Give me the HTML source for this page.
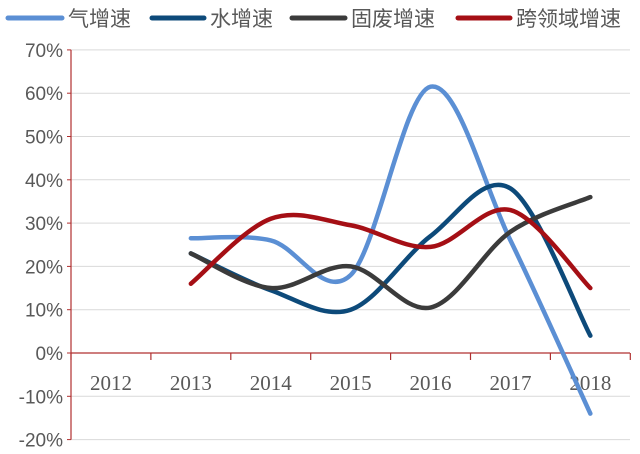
<!DOCTYPE html>
<html><head><meta charset="utf-8"><style>
html,body{margin:0;padding:0;background:#fff;}
svg{display:block;font-family:"Liberation Serif","Noto Serif CJK SC",serif;}
</style></head><body>
<svg id="c" width="640" height="454" xmlns="http://www.w3.org/2000/svg">
<g font-family="Liberation Sans,Noto Sans CJK SC,sans-serif" font-size="21" fill="#595959">
<line x1="8" y1="18" x2="62" y2="18" stroke="#5b8fd4" stroke-width="5" stroke-linecap="round"/>
<text x="68" y="26">气增速</text>
<line x1="152" y1="18" x2="204" y2="18" stroke="#0d4a7a" stroke-width="5" stroke-linecap="round"/>
<text x="210" y="26">水增速</text>
<line x1="292" y1="18" x2="345" y2="18" stroke="#3b3b3b" stroke-width="5" stroke-linecap="round"/>
<text x="351" y="26">固废增速</text>
<line x1="458" y1="18" x2="510" y2="18" stroke="#a50f15" stroke-width="5" stroke-linecap="round"/>
<text x="516" y="26">跨领域增速</text>
</g>
<g id="grid"></g>
<g id="series"></g>
</svg>
<script>
var svg=document.getElementById('c');
var x0=71,x1=630,cw=79.9,y0=353,u=4.33;
function Y(v){return y0-v*u;}
function X(i){return x0+cw*(i+0.5);}
var g=document.getElementById('grid'),h='';
for(var v=-20;v<=70;v+=10){
 if(v!=0)h+='<line x1="'+x0+'" x2="'+x1+'" y1="'+Y(v)+'" y2="'+Y(v)+'" stroke="#d9d9d9" stroke-width="1"/>';
 h+='<line x1="'+(x0-4)+'" x2="'+x0+'" y1="'+Y(v)+'" y2="'+Y(v)+'" stroke="#b03030" stroke-width="1"/>';
 h+='<text x="'+(x0-8)+'" y="'+(Y(v)+7)+'" text-anchor="end" font-size="19" fill="#595959" font-family="Liberation Sans,sans-serif">'+v+'%</text>';
}
h+='<line x1="'+x0+'" x2="'+x0+'" y1="'+Y(70)+'" y2="'+Y(-20)+'" stroke="#b03030" stroke-width="1.2"/>';
h+='<line x1="'+x0+'" x2="'+x1+'" y1="'+y0+'" y2="'+y0+'" stroke="#b03030" stroke-width="1.2"/>';
for(var i=0;i<=7;i++){var xx=x0+cw*i;h+='<line x1="'+xx+'" x2="'+xx+'" y1="'+y0+'" y2="'+(y0+7)+'" stroke="#b03030" stroke-width="1.2"/>';}
var yrs=[2012,2013,2014,2015,2016,2017,2018];
for(var i=0;i<7;i++)h+='<text x="'+X(i)+'" y="'+(y0+37)+'" text-anchor="middle" font-size="21" fill="#595959">'+yrs[i]+'</text>';
g.innerHTML=h;
var S=[
 ['#5b8fd4',[26.5,26,18,61.5,26,-14]],
 ['#0d4a7a',[23,14.5,10,27,38,4]],
 ['#3b3b3b',[23,15,20,10.5,28,36]],
 ['#a50f15',[16,31,29.5,24.5,33,15]]];
var s='';
S.forEach(function(se){
 var p=se[1].map(function(v,i){return [X(i+1),Y(v)];});
 var d='M'+p[0][0]+','+p[0][1];
 for(var i=0;i<p.length-1;i++){
  var a=p[Math.max(i-1,0)],b=p[i],c=p[i+1],e=p[Math.min(i+2,p.length-1)],t=1/6;
  d+=' C'+(b[0]+(c[0]-a[0])*t)+','+(b[1]+(c[1]-a[1])*t)+' '+(c[0]-(e[0]-b[0])*t)+','+(c[1]-(e[1]-b[1])*t)+' '+c[0]+','+c[1];
 }
 s+='<path d="'+d+'" fill="none" stroke="'+se[0]+'" stroke-width="4.5" stroke-linecap="round"/>';
});
document.getElementById('series').innerHTML=s;
</script>
</body></html>
